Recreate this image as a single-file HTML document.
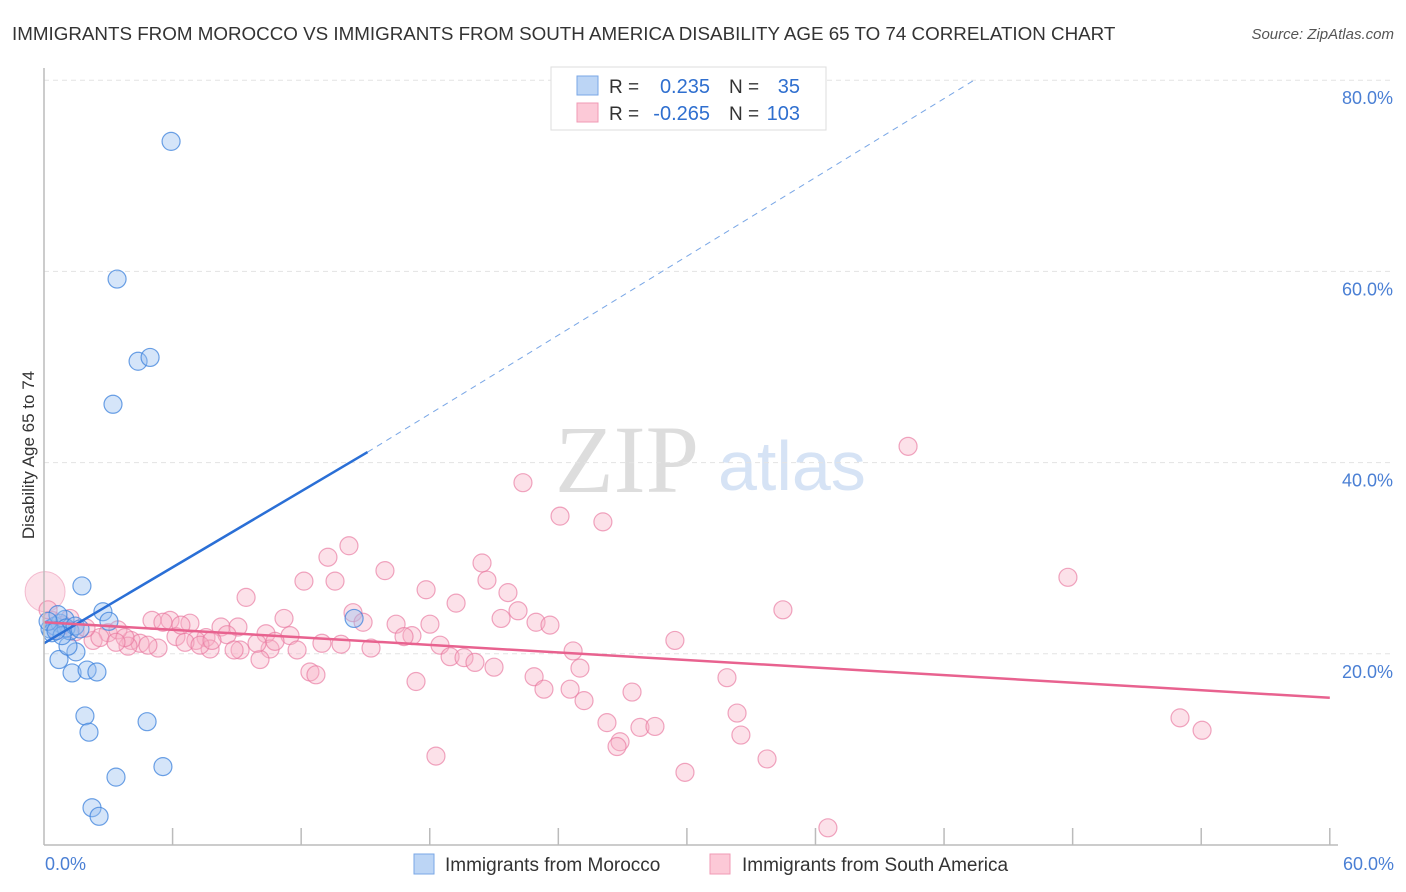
<!DOCTYPE html>
<html><head><meta charset="utf-8">
<style>
body{margin:0;background:#fff;font-family:"Liberation Sans",sans-serif;}
#wrap{position:relative;width:1406px;height:892px;overflow:hidden;}
</style></head>
<body>
<div id="wrap">
<svg id="svg" width="1406" height="892" xmlns="http://www.w3.org/2000/svg">
<text x="12" y="40" font-size="18.8" fill="#333">IMMIGRANTS FROM MOROCCO VS IMMIGRANTS FROM SOUTH AMERICA DISABILITY AGE 65 TO 74 CORRELATION CHART</text>
<text x="1394" y="39" font-size="15" fill="#555" font-style="italic" text-anchor="end">Source: ZipAtlas.com</text>
<text x="555" y="492" font-size="96" fill="#ddd" font-family="Liberation Serif,serif">ZIP</text>
<text x="718" y="490" font-size="70" fill="#d6e3f5">atlas</text>
<text transform="translate(34,455) rotate(-90)" font-size="17" fill="#333" text-anchor="middle">Disability Age 65 to 74</text>
<g id="grid"></g><g id="pts"></g><g id="lines"></g>
<line x1="44" y1="68" x2="44" y2="845" stroke="#bbb" stroke-width="1.5"/>
<line x1="44" y1="845" x2="1338" y2="845" stroke="#bbb" stroke-width="1.5"/>
<text x="45" y="870" font-size="18" fill="#4a7fd4">0.0%</text>
<text x="1394" y="870" font-size="18" fill="#4a7fd4" text-anchor="end">60.0%</text>
<g>
<rect x="551" y="67" width="275" height="63" fill="#fff" stroke="#ddd"/>
<rect x="577" y="76" width="21" height="19" fill="#bcd5f5" stroke="#7aa7e6"/>
<rect x="577" y="103" width="21" height="19" fill="#fcc9d7" stroke="#f09ab4"/>
<text x="609" y="93" font-size="19" fill="#333">R =</text>
<text x="710" y="93" font-size="20" fill="#2f6fcf" text-anchor="end">0.235</text>
<text x="729" y="93" font-size="19" fill="#333">N =</text>
<text x="800" y="93" font-size="20" fill="#2f6fcf" text-anchor="end">35</text>
<text x="609" y="120" font-size="19" fill="#333">R =</text>
<text x="710" y="120" font-size="20" fill="#2f6fcf" text-anchor="end">-0.265</text>
<text x="729" y="120" font-size="19" fill="#333">N =</text>
<text x="800" y="120" font-size="20" fill="#2f6fcf" text-anchor="end">103</text>
</g>
<g>
<rect x="414" y="854" width="20" height="20" fill="#bcd5f5" stroke="#7aa7e6"/>
<text x="445" y="871" font-size="19" fill="#333">Immigrants from Morocco</text>
<rect x="710" y="854" width="20" height="20" fill="#fcc9d7" stroke="#f09ab4"/>
<text x="742" y="871" font-size="19" fill="#333">Immigrants from South America</text>
</g>
</svg>
</div>
<script>
const yTicks=[20,40,60,80];
const xTicks=[6,12,18,24,30,36,42,48,54,60];
const blueX=[5.93,3.41,4.39,4.95,3.22,1.77,2.75,3.03,0.70,1.31,1.49,1.12,2.01,2.47,1.91,2.10,4.81,5.55,3.36,2.24,2.57,14.47,0.28,0.51,0.75,0.98,1.21,0.37,0.65,1.03,1.45,1.68,0.19,0.84,0.56];
const blueY=[73.6,59.2,50.6,51.0,46.1,27.1,24.4,23.4,19.4,18.0,20.2,20.8,18.3,18.1,13.5,11.8,12.9,8.2,7.1,3.9,3.0,23.7,22.6,22.9,23.2,23.6,22.4,22.2,24.1,22.7,22.9,22.6,23.4,21.9,22.4];
const pinkPx=[[908,446],[523,483],[560,516],[603,522],[1068,577],[349,546],[328,557],[482,563],[385,571],[487,580],[335,581],[304,581],[426,590],[508,593],[246,597],[456,603],[518,611],[783,610],[353,613],[363,622],[284,618],[501,618],[536,622],[550,625],[396,624],[412,636],[430,624],[170,620],[190,623],[152,620],[221,627],[238,627],[290,636],[266,634],[227,635],[176,637],[206,638],[196,640],[185,642],[131,640],[108,633],[140,643],[158,648],[210,649],[240,650],[270,649],[297,650],[322,643],[341,644],[371,648],[404,637],[440,645],[450,657],[464,658],[475,662],[494,667],[534,677],[544,689],[573,651],[580,668],[675,640],[727,678],[570,689],[584,701],[632,692],[416,682],[310,672],[316,675],[260,660],[234,650],[200,645],[93,640],[118,630],[100,638],[128,646],[75,632],[63,625],[57,630],[52,620],[48,610],[607,723],[640,727],[655,726],[620,742],[617,747],[737,713],[741,735],[767,759],[685,772],[436,756],[828,828],[1180,718],[1202,730],[212,640],[181,625],[163,622],[148,645],[257,643],[275,641],[125,638],[116,642],[86,628],[70,618]];
const pinkX=pinkPx.map(p=>+((p[0]-44)/21.43).toFixed(2));
const pinkY=pinkPx.map(p=>+((845-p[1])/9.56).toFixed(1));
const blueLine=[0,21.1,15.1,41.1,43.4,80];
const pinkLine=[0,23.3,60,15.4];
const X=v=>44+v*21.43, Y=v=>845-v*9.56;
const NS="http://www.w3.org/2000/svg";
function mk(t,a,p){const e=document.createElementNS(NS,t);for(const k in a)e.setAttribute(k,a[k]);p.appendChild(e);return e;}
const grid=document.getElementById('grid'),pts=document.getElementById('pts'),lines=document.getElementById('lines');
yTicks.forEach(v=>{
 const l=mk('line',{x1:44,x2:1394,y1:Y(v),y2:Y(v),stroke:'#e3e3e3','stroke-dasharray':'5,4'},grid);
 
 
 const t=mk('text',{x:1393,y:Y(v)+24,'font-size':18,fill:'#4a7fd4','text-anchor':'end'},grid);
 t.textContent=v.toFixed(1)+'%';
 
 
});
xTicks.forEach(v=>{
 const l=mk('line',{x1:X(v),x2:X(v),y1:828,y2:845,stroke:'#bbb','stroke-width':1.5},grid);
 
 
});
const big=mk('circle',{cx:X(0.05),cy:Y(26.5),r:20,fill:'rgba(245,160,185,0.3)',stroke:'rgba(230,120,160,0.45)'},pts);


pinkX.forEach((x,i)=>{
 const c=mk('circle',{cx:X(x),cy:Y(pinkY[i]),r:9,fill:'rgba(248,175,198,0.38)',stroke:'rgba(232,118,158,0.65)','stroke-width':1.2},pts);
 
 
});
blueX.forEach((x,i)=>{
 const c=mk('circle',{cx:X(x),cy:Y(blueY[i]),r:9,fill:'rgba(150,190,240,0.4)',stroke:'rgba(60,130,220,0.75)','stroke-width':1.2},pts);
 
 
});
const b1=mk('line',{x1:X(blueLine[0]),y1:Y(blueLine[1]),x2:X(blueLine[2]),y2:Y(blueLine[3]),stroke:'#2a6fd6','stroke-width':2.5},lines);


const b2=mk('line',{x1:X(blueLine[2]),y1:Y(blueLine[3]),x2:X(blueLine[4]),y2:Y(blueLine[5]),stroke:'#7aa7e6','stroke-width':1,'stroke-dasharray':'6,5'},lines);


const p1=mk('line',{x1:X(pinkLine[0]),y1:Y(pinkLine[1]),x2:X(pinkLine[2]),y2:Y(pinkLine[3]),stroke:'#e8628f','stroke-width':2.5},lines);


</script>
</body></html>
